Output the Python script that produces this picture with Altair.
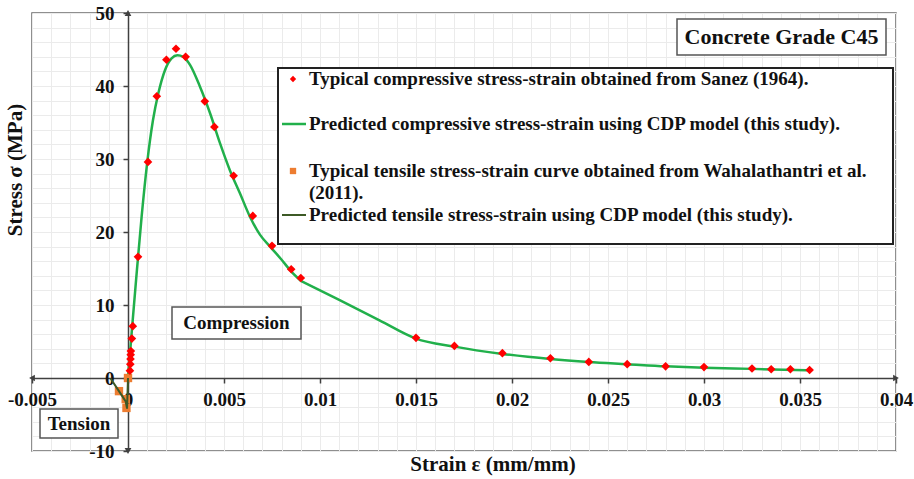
import altair as alt
import pandas as pd

# ---------------- data ----------------
# Typical compressive stress-strain (Sanez 1964) - red diamonds
comp_strain = [0.0001, 0.00012, 0.00013, 0.00014, 0.00015, 0.0002, 0.00025,
               0.00052, 0.00104, 0.0015, 0.002, 0.0025, 0.003, 0.004, 0.0045,
               0.0055, 0.0065, 0.0075, 0.0085, 0.009, 0.015, 0.017, 0.0195,
               0.022, 0.024, 0.026, 0.028, 0.030, 0.0325, 0.0335, 0.0345, 0.0355]
comp_stress = [1.0, 1.9, 2.6, 3.2, 3.7, 5.4, 7.1,
               16.6, 29.6, 38.6, 43.6, 45.1, 44.0, 37.9, 34.4,
               27.7, 22.2, 18.1, 14.9, 13.7, 5.5, 4.4, 3.4,
               2.7, 2.2, 1.9, 1.6, 1.5, 1.3, 1.2, 1.2, 1.1]

# Predicted compressive stress-strain (CDP model) - green line
cdp_c_strain = [0, 0.0002, 0.00042, 0.00071, 0.001, 0.0013, 0.00158, 0.00193,
                0.00227, 0.00257, 0.00288, 0.00323, 0.00375, 0.00427, 0.0048,
                0.0053, 0.00583, 0.00635, 0.00688, 0.0074, 0.008, 0.0085, 0.009,
                0.011, 0.0131, 0.015, 0.017, 0.0195, 0.022, 0.024, 0.026, 0.028,
                0.030, 0.0325, 0.0355]
cdp_c_stress = [0, 6.5, 13.4, 22.1, 29.5, 35.3, 39.0, 42.2,
                43.8, 44.2, 44.0, 42.9, 39.9, 36.3, 32.1,
                28.5, 25.3, 22.1, 19.6, 18.0, 16.2, 14.6, 13.3,
                10.7, 7.9, 5.4, 4.3, 3.3, 2.6, 2.2, 1.9, 1.6,
                1.4, 1.25, 1.05]
CDP_KINK = 0.009  # strain where the predicted curve changes branch

# Typical tensile stress-strain (Wahalathantri et al. 2011) - orange squares
tens_strain = [0, -0.00047, -0.00012, -0.00008]
tens_stress = [0, -1.8, -2.9, -4.1]

# Predicted tensile stress-strain (CDP model) - dark green line
cdp_t_strain = [0, -0.00005, -0.00012, -0.00047, -0.0009]
cdp_t_stress = [0, -4.2, -3.2, -1.8, -0.1]

# axis ticks / grid
x_ticks = [-0.005, 0, 0.005, 0.01, 0.015, 0.02, 0.025, 0.03, 0.035, 0.04]
y_ticks = [-10, 0, 10, 20, 30, 40, 50]
grid_x = [round(-0.005 + 0.001 * i, 3) for i in range(46)]
grid_y = list(range(-10, 51, 2))

W, H = 864, 438
X_DOM = [-0.005, 0.04]
Y_DOM = [-10, 50]
FONT = "Liberation Serif"
AX = "#404040"

xs = alt.Scale(domain=X_DOM, nice=False, zero=False)
ys = alt.Scale(domain=Y_DOM, nice=False, zero=False)

x_grid_axis = alt.Axis(values=grid_x, orient="bottom", title=None, grid=True,
                       gridColor="#ebebeb", gridWidth=1, labels=False, ticks=False,
                       domain=False)
y_grid_axis = alt.Axis(values=grid_y, orient="left", title=None, grid=True,
                       gridColor="#ebebeb", gridWidth=1, labels=False, ticks=False,
                       domain=False)

x_axis = alt.Axis(
    values=x_ticks, orient="bottom", offset=-73, title=None, grid=False,
    domainColor=AX, domainWidth=1.5,
    tickColor=AX, tickWidth=1.5, tickSize=5,
    labelExpr="'' + datum.value",
    labelFont=FONT, labelFontWeight="bold", labelFontSize=19, labelColor="#111",
    labelPadding=7, labelOverlap=False, labelFlush=False, labelBound=False,
)
y_axis = alt.Axis(
    values=y_ticks, orient="left", offset=-96, title=None, grid=False,
    domainColor=AX, domainWidth=1.5,
    tickColor=AX, tickWidth=1.5, tickSize=5,
    labelExpr="'' + datum.value",
    labelFont=FONT, labelFontWeight="bold", labelFontSize=19, labelColor="#111",
    labelPadding=9, labelOverlap=False, labelFlush=False, labelBound=False,
)

df_comp = pd.DataFrame({"strain": comp_strain, "stress": comp_stress})
df_cdpc = pd.DataFrame({"strain": cdp_c_strain, "stress": cdp_c_stress})
df_tens = pd.DataFrame({"strain": tens_strain, "stress": tens_stress})
df_cdpt = pd.DataFrame({"strain": cdp_t_strain, "stress": cdp_t_stress})
df_arrow = pd.DataFrame({
    "strain": [X_DOM[1], X_DOM[0], 0, 0],
    "stress": [0, 0, Y_DOM[1], Y_DOM[0]],
    "shape": ["triangle-right", "triangle-left", "triangle-up", "triangle-down"],
})


def X(axis=None):
    return alt.X("strain:Q", scale=xs, axis=axis)


def Y(axis=None):
    return alt.Y("stress:Q", scale=ys, axis=axis)


cdpc_line1 = alt.Chart(df_cdpc).transform_filter(f"datum.strain <= {CDP_KINK}").mark_line(
    color="#21b04b", strokeWidth=2.5, interpolate="monotone").encode(
    x=X(x_grid_axis), y=Y(y_grid_axis))
cdpc_line2 = alt.Chart(df_cdpc).transform_filter(f"datum.strain >= {CDP_KINK}").mark_line(
    color="#21b04b", strokeWidth=2.5, interpolate="monotone").encode(x=X(), y=Y())
tens_pts = alt.Chart(df_tens).mark_point(shape="square", filled=True, size=70, color="#ed7d31", opacity=1).encode(
    x=X(), y=Y())
cdpt_line = alt.Chart(df_cdpt).mark_line(color="#3d5a26", strokeWidth=2).encode(x=X(), y=Y())
comp_pts = alt.Chart(df_comp).mark_point(shape="diamond", filled=True, size=75, color="#ff0000", opacity=1).encode(
    x=X(), y=Y())
arrows = alt.Chart(df_arrow).mark_point(filled=True, size=45, color=AX, opacity=1).encode(
    x=X(x_axis), y=Y(y_axis), shape=alt.Shape("shape:N", scale=None))

one = pd.DataFrame({"a": [0]})


def box(x1, y1, x2, y2, sw=1.5, stroke="#555"):
    return alt.Chart(one).mark_rect(fill="white", stroke=stroke, strokeWidth=sw).encode(
        x=alt.value(x1), x2=alt.value(x2), y=alt.value(y1), y2=alt.value(y2))


def label(txt, x, y, size=19, align="center", angle=0):
    return alt.Chart(one).mark_text(
        text=txt, font=FONT, fontWeight="bold", fontSize=size, color="#111",
        align=align, baseline="middle", angle=angle).encode(x=alt.value(x), y=alt.value(y))


# annotation boxes (pixel coordinates inside the plot area)
annots = [
    box(645, 6, 854, 42), label("Concrete Grade C45", 749.5, 24, size=22),
    box(140, 294, 269, 326), label("Compression", 204.5, 310),
    box(8, 396, 86, 425), label("Tension", 47, 410.5),
]

# legend
LX0, LY0, LX1, LY1 = 246, 55, 861, 231
tx = 277
legend = [
    box(LX0, LY0, LX1, LY1, sw=2, stroke="#222"),
    alt.Chart(one).mark_point(shape="diamond", filled=True, size=40, color="#ff0000", opacity=1).encode(
        x=alt.value(261), y=alt.value(66)),
    label("Typical compressive stress-strain obtained from Sanez (1964).", tx, 66, align="left"),
    alt.Chart(one).mark_rule(color="#21b04b", strokeWidth=2.5).encode(
        x=alt.value(250), x2=alt.value(274), y=alt.value(111)),
    label("Predicted compressive stress-strain using CDP model (this study).", tx, 111, align="left"),
    alt.Chart(one).mark_point(shape="square", filled=True, size=40, color="#ed7d31", opacity=1).encode(
        x=alt.value(261), y=alt.value(158)),
    label("Typical tensile stress-strain curve obtained from Wahalathantri et al.", tx, 158, align="left"),
    label("(2011).", tx, 180, align="left"),
    alt.Chart(one).mark_rule(color="#3d5a26", strokeWidth=2).encode(
        x=alt.value(250), x2=alt.value(274), y=alt.value(202)),
    label("Predicted tensile stress-strain using CDP model (this study).", tx, 202, align="left"),
]

titles = [
    label("Stress σ (MPa)", -16, 157, size=21, angle=270),
    label("Strain ε (mm/mm)", 461, 452, size=21),
]

chart = alt.layer(
    cdpc_line1, cdpc_line2, tens_pts, cdpt_line, comp_pts, arrows, *annots, *legend, *titles
).resolve_axis(x="independent", y="independent").properties(
    width=W, height=H,
    autosize=alt.AutoSizeParams(type="none"),
    padding={"left": 32, "top": 13, "right": 18, "bottom": 28},
    background="white",
).configure_view(stroke="#6b6b6b", strokeWidth=1.5)

chart.save("out.html", embed_options={"renderer": "svg", "actions": False})
